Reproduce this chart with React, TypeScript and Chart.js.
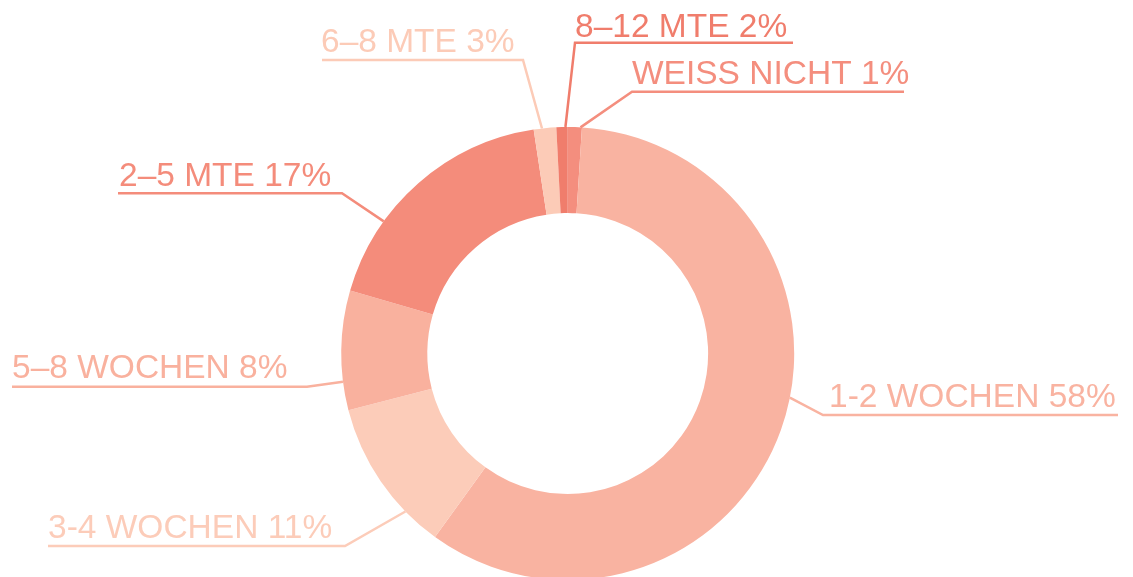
import React, { useEffect, useRef } from "react";
import { Chart, registerables } from "chart.js";

Chart.register(...registerables);

// Categories in clockwise order starting at 12 o'clock
const categories = ["WEISS NICHT", "1-2 WOCHEN", "3-4 WOCHEN", "5–8 WOCHEN", "2–5 MTE", "6–8 MTE", "8–12 MTE"];
// Slice sizes
const values = [1.0, 58.9, 11.0, 8.5, 18.1, 1.6, 0.8];
// Percentages printed in the labels
const shownPercents = [1, 58, 11, 8, 17, 3, 2];
const colors = ["#F48E7E", "#F9B3A1", "#FCCCB9", "#F9B19E", "#F48C7B", "#FCCBB7", "#F07D6C"];

// Label placement (annotation layout)
const labelLayout = [
  { x: 632, y: 83.5, lx0: 632, lx1: 904, ly: 91.7, elbow: "start", t: 0.9 },
  { x: 829, y: 406.5, lx0: 823, lx1: 1118, ly: 415, elbow: "start", t: 0.46 },
  { x: 48, y: 538.3, lx0: 48, lx1: 345, ly: 546, elbow: "end", t: 0.25 },
  { x: 12, y: 378.3, lx0: 12, lx1: 307, ly: 386.7, elbow: "end", t: 0.24 },
  { x: 119, y: 185.7, lx0: 118, lx1: 342, ly: 193.3, elbow: "end", t: 0.3 },
  { x: 321, y: 52.3, lx0: 322, lx1: 523, ly: 60, elbow: "end", t: 0.37 },
  { x: 575, y: 36.7, lx0: 575, lx1: 793, ly: 42.7, elbow: "start", t: 0.8 },
];

const outsideLabels = {
  id: "outsideLabels",
  afterDraw(chart: any) {
    const ctx = chart.ctx;
    const meta = chart.getDatasetMeta(0);
    ctx.save();
    ctx.font = "33.5px 'Liberation Sans', Arial, sans-serif";
    ctx.textBaseline = "alphabetic";
    ctx.textAlign = "left";
    meta.data.forEach((arc: any, i: number) => {
      const L = labelLayout[i];
      const p = arc.getProps(["x", "y", "startAngle", "endAngle", "outerRadius"], true);
      const a = p.startAngle + L.t * (p.endAngle - p.startAngle);
      const px = p.x + Math.cos(a) * p.outerRadius;
      const py = p.y + Math.sin(a) * p.outerRadius;
      const ex = L.elbow === "start" ? L.lx0 : L.lx1;
      const ox = L.elbow === "start" ? L.lx1 : L.lx0;
      ctx.strokeStyle = colors[i];
      ctx.fillStyle = colors[i];
      ctx.lineWidth = 2.5;
      ctx.lineJoin = "miter";
      ctx.beginPath();
      ctx.moveTo(px, py);
      ctx.lineTo(ex, L.ly);
      ctx.lineTo(ox, L.ly);
      ctx.stroke();
      ctx.fillText(categories[i] + " " + shownPercents[i] + "%", L.x, L.y);
    });
    ctx.restore();
  },
};

export default function App() {
  const ref = useRef<HTMLCanvasElement>(null);
  useEffect(() => {
    document.body.style.margin = "0";
    const chart = new Chart(ref.current!, {
      type: "doughnut",
      data: {
        labels: categories,
        datasets: [
          {
            data: values,
            backgroundColor: colors,
            borderWidth: 0,
            hoverOffset: 0,
          },
        ],
      },
      options: {
        animation: false,
        responsive: true,
        maintainAspectRatio: false,
        cutout: "62%",
        rotation: 0,
        layout: { padding: { left: 2.4, right: 0, top: 127, bottom: 20 } },
        plugins: {
          legend: { display: false },
          tooltip: { enabled: false },
        },
      },
      plugins: [outsideLabels],
    });
    return () => chart.destroy();
  }, []);
  return (
    <div style={{ width: 1133, height: 577, overflow: "hidden", position: "relative", background: "#fff" }}>
      <div style={{ width: 1133, height: 600 }}>
        <canvas ref={ref} />
      </div>
    </div>
  );
}
